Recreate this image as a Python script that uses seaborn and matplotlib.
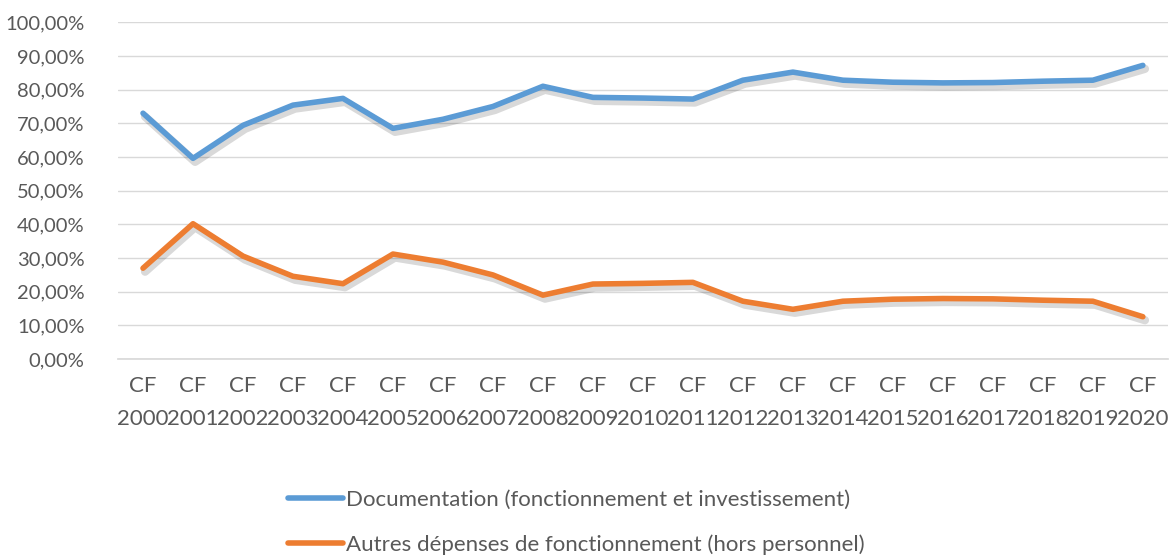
import pandas as pd
import numpy as np
import matplotlib.pyplot as plt
import matplotlib.patheffects as pe
from matplotlib.ticker import FuncFormatter
import seaborn as sns

# Data (shares in %)
years = [f"CF\n{y}" for y in range(2000, 2021)]
documentation = [73.0, 59.6, 69.4, 75.4, 77.4, 68.5, 71.2, 75.0, 81.0, 77.7, 77.5,
                 77.2, 82.8, 85.2, 82.8, 82.2, 82.0, 82.1, 82.5, 82.8, 87.2]
autres = [27.0, 40.2, 30.6, 24.6, 22.4, 31.2, 28.8, 25.0, 19.0, 22.3, 22.5,
          22.8, 17.2, 14.8, 17.2, 17.8, 18.0, 17.9, 17.5, 17.2, 12.6]
series_names = ["Documentation (fonctionnement et investissement)",
                "Autres dépenses de fonctionnement (hors personnel)"]
colors = ["#5B9BD5", "#ED7D31"]

df = pd.DataFrame({"annee": years * 2,
                   "part": documentation + autres,
                   "serie": [series_names[0]] * len(years) + [series_names[1]] * len(years)})

sns.set_theme(style="white")
plt.rcParams['font.family'] = ['Lato', 'DejaVu Sans']

fig = plt.figure(figsize=(11.73, 5.56), dpi=100)
ax = fig.add_axes([0.1006, 0.354, 0.895, 0.606])

shadow = [pe.SimpleLineShadow(offset=(1.5, -2.5), shadow_color='black', alpha=0.15, linewidth=6),
          pe.Normal()]
sns.lineplot(data=df, x="annee", y="part", hue="serie", palette=colors,
             linewidth=4, ax=ax, sort=False, legend=False)
for line in ax.lines:
    line.set_path_effects(shadow)
    line.set_solid_capstyle('round')
    line.set_solid_joinstyle('round')

ax.set_xlim(-0.5, len(years) - 0.5)
ax.set_ylim(0, 100)
ax.set_yticks(np.arange(0, 101, 10))
ax.yaxis.set_major_formatter(FuncFormatter(lambda v, p: f"{v:.2f}%".replace(".", ",")))
ax.grid(axis='y', color='#D9D9D9', linewidth=1)
ax.set_axisbelow(True)
for s in ["top", "right", "left"]:
    ax.spines[s].set_visible(False)
ax.spines["bottom"].set_color('#D9D9D9')
ax.set_xlabel("")
ax.set_ylabel("")
ax.tick_params(axis='both', length=0, colors='#595959')
ax.tick_params(axis='x', pad=12, labelsize=16)
ax.tick_params(axis='y', pad=24, labelsize=14.5)
for lab in ax.get_xticklabels():
    lab.set_linespacing(1.8)

handles = [plt.Line2D([], [], color=c, linewidth=4, solid_capstyle='round') for c in colors]
fig.legend(handles, series_names, loc='center', bbox_to_anchor=(0.491, 0.06),
           ncol=1, frameon=False, fontsize=16, handlelength=2.5, handletextpad=0.1,
           labelspacing=1.1, labelcolor='#595959', borderpad=0)

fig.savefig("out.png", dpi=100)
